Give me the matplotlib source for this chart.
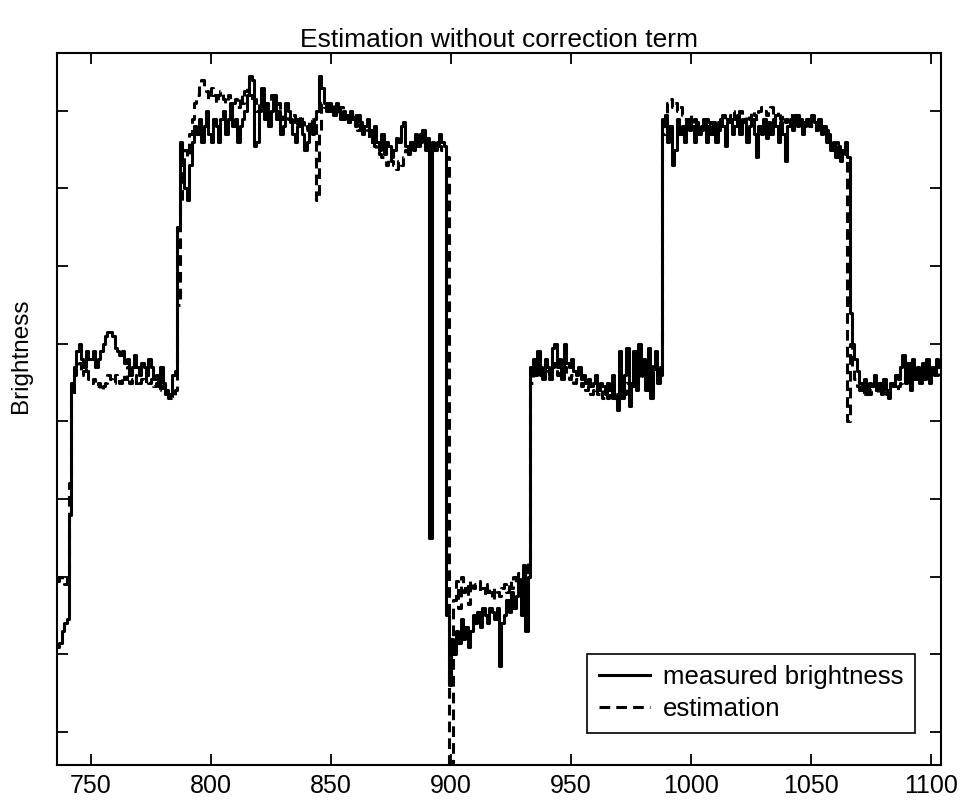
import numpy as np
import matplotlib.pyplot as plt

plt.rcParams['font.family'] = ['Liberation Sans', 'DejaVu Sans']

# frame numbers start at 736, one value per frame
first_frame = 736

# measured brightness (solid), frames 736..1103
measured = (
    [1.1, 1.15, 1.3, 1.4, 1.45, 2.8, 4.5]
    + [4.7, 4.9, 5.0, 4.8, 4.7, 4.9, 4.8, 4.8, 4.9, 4.7,
       4.8, 4.9, 5.0, 5.1, 5.15, 5.15, 5.1, 4.95, 4.9, 4.85,
       4.9, 4.75, 4.8, 4.6, 4.7, 4.85, 4.7, 4.6, 4.75, 4.7,
       4.6, 4.8, 4.7, 4.55, 4.6, 4.45, 4.7, 4.5, 4.35, 4.3,
       4.35, 4.6, 4.65]
    + [6.5, 7.6, 7.3, 7.0, 6.85, 7.3, 7.6]
    + [7.8, 7.7, 7.9, 7.6, 7.8, 8.0, 7.7, 7.6, 7.9, 7.8,
       7.6, 7.9, 8.0, 7.7, 7.9, 8.1, 7.8, 7.9, 7.6, 7.8,
       7.9, 8.0, 8.2, 8.45, 8.4, 7.55, 7.6, 8.0, 8.3, 7.9,
       8.1, 7.8, 8.0, 8.2, 7.9, 8.0, 7.7, 7.8, 8.1, 8.0,
       7.9, 7.7, 7.6, 7.8, 7.9, 7.7, 7.5, 7.6, 7.8, 7.7,
       7.9, 8.0, 8.45]
    + [8.3, 8.1, 8.0, 8.1, 8.05, 7.95, 8.1, 8.0, 7.9, 8.0,
       7.95, 7.85, 8.0, 7.9, 7.8, 7.95, 7.85, 7.7, 7.8, 7.9,
       7.75, 7.65, 7.8, 7.6, 7.5, 7.7, 7.45, 7.6, 7.55, 7.4,
       7.5, 7.65, 7.6, 7.8, 7.85, 7.55, 7.45, 7.6, 7.5, 7.7,
       7.55, 7.6, 7.75, 7.5, 7.65]
    + [2.5, 7.6, 7.55, 7.6, 7.7, 7.6, 7.55]
    + [1.5, 0.6, 1.2, 1.0, 1.3, 1.15, 1.45, 1.2, 1.35, 1.1,
       1.3, 1.5, 1.4, 1.55, 1.35, 1.6, 1.5, 1.4, 1.6, 1.55,
       1.45, 1.6, 0.85, 1.4, 1.5, 1.7, 1.55, 1.8, 1.6, 1.75,
       1.95, 1.5, 2.15, 1.3, 2.0, 4.7]
    + [4.8, 4.6, 4.9, 4.7, 4.55, 4.8, 4.7, 4.6, 4.95, 5.0,
       4.7, 4.8, 4.6, 5.0, 4.75, 4.7, 4.8, 4.65, 4.6, 4.7,
       4.55, 4.6, 4.5, 4.55, 4.45, 4.5, 4.6, 4.4, 4.5, 4.45,
       4.35, 4.5, 4.4, 4.6, 4.3, 4.15, 4.9, 4.3, 4.6, 4.95,
       4.2, 4.5, 4.9, 4.4, 5.0, 4.6, 4.8, 4.4, 4.95, 4.3,
       4.7, 4.9, 4.5, 4.7]
    + [7.9, 7.95, 7.6, 7.8, 7.3, 7.5, 7.9, 7.7, 7.8, 7.6,
       7.9, 7.75, 7.8, 7.6, 7.85, 7.7, 7.75, 7.9, 7.6, 7.8,
       7.7, 7.85, 7.6, 7.75, 7.9, 7.8, 7.55, 7.85, 7.9, 7.7,
       7.8, 7.95, 7.7, 7.9, 7.85, 7.6, 7.8, 7.9, 7.7, 7.4,
       7.8, 7.7, 7.9, 7.65, 7.85, 7.7, 7.9, 7.8, 7.6, 7.85,
       7.7, 7.35, 7.8, 7.9, 7.75, 7.95, 7.8, 7.9, 7.7, 7.85,
       7.9, 7.8, 7.95, 7.85, 7.75, 7.9, 7.7, 7.8, 7.6, 7.7,
       7.5, 7.6, 7.4, 7.55, 7.35, 7.5, 7.6, 7.4]
    + [5.4, 5.0, 4.8, 4.65, 4.5, 4.4, 4.55, 4.35, 4.5, 4.45,
       4.6, 4.4, 4.5, 4.35, 4.55, 4.4, 4.3, 4.5, 4.45, 4.6,
       4.55, 4.7, 4.85, 4.5, 4.75, 4.4, 4.8, 4.55, 4.7, 4.5,
       4.75, 4.55, 4.8, 4.5, 4.7, 4.6, 4.8, 4.7]
)

# estimation (dashed), frames 736..1103
estimation = (
    [1.95, 2.0, 1.95, 1.9, 2.0, 3.2, 4.3]
    + [4.6, 4.7, 4.75, 4.6, 4.65, 4.7, 4.55, 4.5, 4.55, 4.45,
       4.5, 4.4, 4.45, 4.5, 4.6, 4.55, 4.5, 4.6, 4.55, 4.5,
       4.6, 4.55, 4.7, 4.5, 4.55, 4.6, 4.45, 4.5, 4.55, 4.5,
       4.6, 4.5, 4.55, 4.45, 4.5, 4.4, 4.45, 4.35, 4.4, 4.3,
       4.35, 4.3, 4.4]
    + [5.5, 6.8, 7.2, 7.5, 7.4, 7.7, 7.9]
    + [8.1, 8.2, 8.35, 8.4, 8.3, 8.25, 8.15, 8.3, 8.2, 8.1,
       8.2, 8.25, 8.15, 8.1, 8.2, 8.0, 8.1, 8.15, 8.05, 8.2,
       8.1, 8.25, 8.3, 8.2, 8.1, 8.15, 8.0, 8.1, 8.2, 8.15,
       8.05, 8.1, 8.2, 8.05, 8.0, 8.1, 7.9, 7.95, 8.05, 7.9,
       7.85, 7.95, 7.8, 7.9, 7.95, 7.85, 7.75, 7.8, 7.9, 7.8,
       7.85, 6.85, 7.7]
    + [8.1, 8.05, 8.1, 8.0, 8.05, 8.1, 8.0, 7.95, 8.05, 7.9,
       7.95, 7.85, 7.9, 7.95, 7.8, 7.75, 7.85, 7.8, 7.7, 7.75,
       7.6, 7.7, 7.55, 7.5, 7.45, 7.4, 7.35, 7.3, 7.4, 7.35,
       7.3, 7.25, 7.35, 7.3, 7.4, 7.5, 7.45, 7.6, 7.55, 7.65,
       7.6, 7.7, 7.65, 7.55, 7.6]
    + [7.5, 7.55, 7.5, 7.6, 7.55, 7.5, 7.45, 7.4]
    + [-0.8, -0.8, 1.7, 1.95, 1.6, 2.0, 1.8, 1.9, 1.65, 1.95,
       1.85, 1.9, 1.95, 1.8, 1.85, 1.75, 1.9, 1.8, 1.7, 1.85,
       1.8, 1.75, 1.85, 1.9, 1.8, 1.95, 1.85, 2.0, 1.9, 2.05,
       1.95, 2.1, 2.0, 2.2, 4.5]
    + [4.7, 4.65, 4.75, 4.6, 4.55, 4.65, 4.6, 4.55, 4.7, 4.75,
       4.6, 4.65, 4.55, 4.7, 4.6, 4.55, 4.6, 4.5, 4.55, 4.5,
       4.45, 4.5, 4.4, 4.45, 4.35, 4.4, 4.45, 4.35, 4.4, 4.3,
       4.35, 4.3, 4.4, 4.3, 4.25, 4.35, 4.5, 4.4, 4.35, 4.5,
       4.4, 4.5, 4.45, 4.6, 4.7, 4.55, 4.6, 4.7, 4.65, 4.75,
       4.6, 4.7, 4.65, 4.6]
    + [7.7, 7.9, 8.1, 8.15, 8.05, 8.1, 8.0, 8.05, 7.95, 7.9,
       7.85, 7.95, 7.8, 7.9, 7.85, 7.75, 7.8, 7.85, 7.9, 7.8,
       7.85, 7.8, 7.75, 7.85, 7.9, 7.95, 7.85, 7.9, 7.95, 8.0,
       7.9, 7.95, 8.0, 7.9, 7.85, 7.95, 7.9, 8.0, 7.95, 7.9,
       8.0, 8.05, 8.0, 7.95, 8.0, 8.05, 7.9, 7.95, 8.0, 7.9,
       7.95, 7.85, 7.9, 7.95, 7.9, 7.85, 7.95, 7.9, 7.85, 7.8,
       7.85, 7.9, 7.8, 7.75, 7.8, 7.85, 7.75, 7.7, 7.75, 7.6,
       7.55, 7.5, 7.6, 7.45, 7.4, 7.5, 7.45, 4.0]
    + [5.0, 4.7, 4.55, 4.45, 4.4, 4.35, 4.4, 4.45, 4.35, 4.4,
       4.45, 4.4, 4.35, 4.45, 4.4, 4.35, 4.4, 4.45, 4.5, 4.4,
       4.45, 4.5, 4.55, 4.6, 4.55, 4.5, 4.6, 4.65, 4.55, 4.6,
       4.65, 4.6, 4.7, 4.6, 4.65, 4.7, 4.6, 4.65]
)

xticks = [750, 800, 850, 900, 950, 1000, 1050, 1100]
yticks = [0, 1, 2, 3, 4, 5, 6, 7, 8]

x_meas = np.arange(first_frame, first_frame + len(measured))
x_est = np.arange(first_frame, first_frame + len(estimation))

fig = plt.figure(figsize=(9.67, 8.09), dpi=100)
ax = fig.add_axes([0.059, 0.054, 0.914, 0.881])

ax.plot(x_meas, measured, color='black', lw=2.2, drawstyle='steps-post',
        label='measured brightness')
ax.plot(x_est, estimation, color='black', lw=2.2, drawstyle='steps-post',
        linestyle=(0, (3.5, 2)), label='estimation')

ax.set_xlim(736, 1104)
ax.set_ylim(-0.43, 8.75)
ax.set_xticks(xticks)
ax.set_yticks(yticks)
ax.set_yticklabels([])
ax.tick_params(direction='in', length=8, width=1.3, top=True, right=True,
               labelsize=18, pad=6)
for s in ax.spines.values():
    s.set_linewidth(1.5)

ax.set_title('Estimation without correction term', fontsize=19, pad=4)
ax.set_ylabel('Brightness', fontsize=17.5)
ax.yaxis.set_label_coords(-0.028, 0.575)

leg = ax.legend(loc='lower right', bbox_to_anchor=(0.971, 0.046),
                borderaxespad=0, fontsize=18.5, fancybox=False, framealpha=1,
                edgecolor='black', handlelength=2.0, handletextpad=0.5,
                borderpad=0.45, labelspacing=0.3)
leg.get_frame().set_linewidth(1.2)

fig.savefig('out.png', dpi=100)
